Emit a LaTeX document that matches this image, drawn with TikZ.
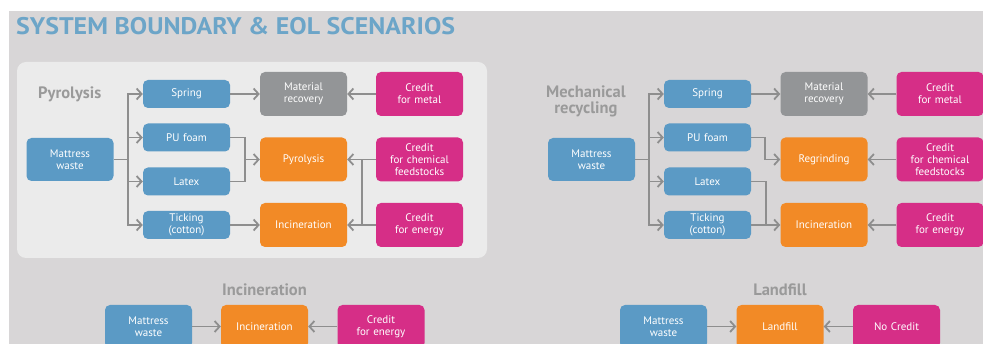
\documentclass[tikz,border=0pt]{standalone}
\usepackage{fontspec}
\setmainfont{PT Sans}
\usetikzlibrary{arrows.meta}
\definecolor{bgc}{HTML}{D8D6D7}
\definecolor{panelc}{HTML}{EBEBEB}
\definecolor{bluec}{HTML}{5B9AC5}
\definecolor{grayc}{HTML}{939597}
\definecolor{orangec}{HTML}{F28A26}
\definecolor{magc}{HTML}{D62E87}
\definecolor{titlec}{HTML}{6CA5C8}
\definecolor{labc}{HTML}{9A9A9A}
\definecolor{linec}{HTML}{8E8E8E}
\tikzset{
  box/.style={rounded corners=5pt, minimum width=87pt, text width=84pt, align=center, inner sep=0pt, text=white, font=\fontsize{11}{12}\selectfont},
  bsmall/.style={box, fill=bluec, minimum height=28pt},
  bbig/.style={box, fill=bluec, minimum height=43pt},
  gbox/.style={box, fill=grayc, minimum height=44pt},
  obox/.style={box, fill=orangec, minimum height=44pt},
  mbox/.style={box, fill=magc, minimum height=44pt},
  conn/.style={draw=linec, line width=1.8pt},
  arr/.style={conn, -{Straight Barb[length=5pt,width=11pt]}},
  seclabel/.style={text=labc, font=\bfseries\fontsize{16.5}{16}\selectfont, align=center, inner sep=0pt}
}
\begin{document}
\begin{tikzpicture}[x=1pt,y=-1pt]
\useasboundingbox (0,0) rectangle (983,344);
\fill[white] (0,0) rectangle (983,344);
\fill[bgc] (9,11) rectangle (983,344);
\node[anchor=west, text=titlec, font=\bfseries\fontsize{24}{26}\selectfont, inner sep=0pt] (title) at (16,26) {\scalebox{1.08}[1]{SYSTEM BOUNDARY \& EOL SCENARIOS}};
\fill[panelc, rounded corners=9pt] (17,62) rectangle (487,258);

% ---------- Pyrolysis panel ----------
\node[seclabel, anchor=west] (lab1) at (38,94) {Pyrolysis};
\node[bbig] (mw1) at (70,159.5) {Mattress\\waste};
\node[bsmall] (sp1) at (186.5,94) {Spring};
\node[bsmall] (pu1) at (186.5,137.5) {PU foam};
\node[bsmall] (la1) at (186.5,181.5) {Latex};
\node[bsmall] (ti1) at (186.5,225) {Ticking\\(cotton)};
\node[gbox] (mr1) at (303.5,94) {Material\\recovery};
\node[obox] (py1) at (303.5,159.5) {Pyrolysis};
\node[obox] (in1) at (303.5,225) {Incineration};
\node[mbox] (cm1) at (419.5,94) {Credit\\for metal};
\node[mbox] (cc1) at (419.5,159.5) {Credit\\for chemical\\feedstocks};
\node[mbox] (ce1) at (419.5,225) {Credit\\for energy};
\coordinate (b1) at (128,159.5);
\coordinate (m1) at (245,159.5);
\coordinate (c1) at (362,159.5);
\draw[conn] (mw1.east) -- (b1);
\draw[arr] (b1) |- (sp1.west);
\draw[arr] (b1) |- (pu1.west);
\draw[arr] (b1) |- (la1.west);
\draw[arr] (b1) |- (ti1.west);
\draw[arr] (sp1.east) -- (mr1.west);
\draw[conn] (pu1.east) -| (m1);
\draw[conn] (la1.east) -| (m1);
\draw[arr] (m1) -- (py1.west);
\draw[arr] (ti1.east) -- (in1.west);
\draw[arr] (cm1.west) -- (mr1.east);
\draw[arr] (cc1.west) -- (py1.east);
\draw[arr] (ce1.west) -- (in1.east);
\draw[conn] (c1) -- (c1|-ce1);

% ---------- Mechanical recycling panel ----------
\node[seclabel, anchor=west, align=center] (lab2) at (546,101) {Mechanical\\recycling};
\node[bbig] (mw2) at (591.5,159.5) {Mattress\\waste};
\node[bsmall] (sp2) at (707.5,94) {Spring};
\node[bsmall] (pu2) at (707.5,137.5) {PU foam};
\node[bsmall] (la2) at (707.5,181.5) {Latex};
\node[bsmall] (ti2) at (707.5,225) {Ticking\\(cotton)};
\node[gbox] (mr2) at (824,94) {Material\\recovery};
\node[obox] (rg2) at (824,159.5) {Regrinding};
\node[obox] (in2) at (824,225) {Incineration};
\node[mbox] (cm2) at (940,94) {Credit\\for metal};
\node[mbox] (cc2) at (940,159.5) {Credit\\for chemical\\feedstocks};
\node[mbox] (ce2) at (940,225) {Credit\\for energy};
\coordinate (b2) at (649,159.5);
\coordinate (m2) at (765,159.5);
\coordinate (m3) at (766,225);
\draw[conn] (mw2.east) -- (b2);
\draw[arr] (b2) |- (sp2.west);
\draw[arr] (b2) |- (pu2.west);
\draw[arr] (b2) |- (la2.west);
\draw[arr] (b2) |- (ti2.west);
\draw[arr] (sp2.east) -- (mr2.west);
\draw[arr] (pu2.east) -| (m2) -- (rg2.west);
\draw[conn] (la2.east) -| (m3);
\draw[arr] (ti2.east) -- (in2.west);
\draw[arr] (cm2.west) -- (mr2.east);
\draw[arr] (cc2.west) -- (rg2.east);
\draw[arr] (ce2.west) -- (in2.east);

% ---------- Incineration ----------
\node[seclabel] (lab3) at (264.5,290) {Incineration};
\node[bbig] (mw3) at (148.5,326.5) {Mattress\\waste};
\node[obox, minimum height=43pt] (in3) at (264.5,326.5) {Incineration};
\node[mbox, minimum height=43pt] (ce3) at (381,326.5) {Credit\\for energy};
\draw[arr] (mw3.east) -- (in3.west);
\draw[arr] (ce3.west) -- (in3.east);

% ---------- Landfill ----------
\node[seclabel] (lab4) at (780,290) {Landfill};
\node[bbig] (mw4) at (663.5,326.5) {Mattress\\waste};
\node[obox, minimum height=43pt] (lf4) at (780,326.5) {Landfill};
\node[mbox, minimum height=43pt] (nc4) at (896.5,326.5) {No Credit};
\draw[arr] (mw4.east) -- (lf4.west);
\draw[arr] (nc4.west) -- (lf4.east);
\end{tikzpicture}
\end{document}
